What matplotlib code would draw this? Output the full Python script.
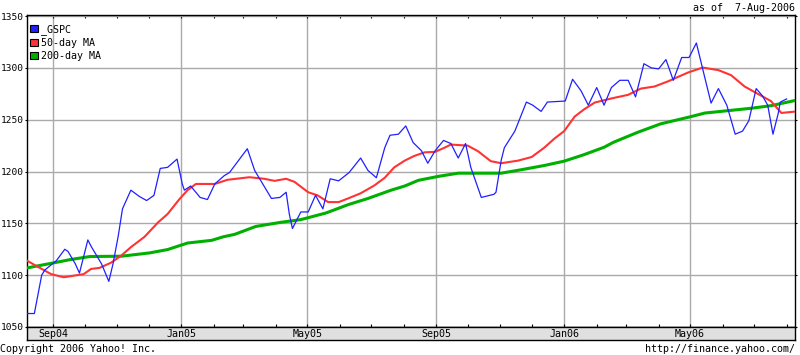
import pandas as pd
import matplotlib
matplotlib.use('Agg')
import matplotlib.pyplot as plt
import matplotlib.dates as mdates
from matplotlib.patches import Patch

plt.rcParams['font.family'] = ['DejaVu Sans Mono']
FS = 7.2

# S&P 500 (^GSPC) weekly closes
gspc_dates = [
    '2004-08-07', '2004-08-14', '2004-08-21', '2004-08-24', '2004-09-04', '2004-09-12',
    '2004-09-15', '2004-09-22', '2004-09-26', '2004-09-30', '2004-10-04', '2004-10-07',
    '2004-10-17', '2004-10-24', '2004-10-28', '2004-11-02', '2004-11-06', '2004-11-14',
    '2004-11-22', '2004-11-29', '2004-12-06', '2004-12-12', '2004-12-19', '2004-12-28',
    '2005-01-02', '2005-01-04', '2005-01-10', '2005-01-19', '2005-01-26', '2005-02-02',
    '2005-02-11', '2005-02-16', '2005-03-05', '2005-03-12', '2005-03-28', '2005-04-05',
    '2005-04-11', '2005-04-14', '2005-04-17', '2005-04-25', '2005-05-02', '2005-05-09',
    '2005-05-16', '2005-05-23', '2005-05-31', '2005-06-10', '2005-06-21', '2005-06-28',
    '2005-07-06', '2005-07-14', '2005-07-19', '2005-07-27', '2005-08-03', '2005-08-10',
    '2005-08-18', '2005-08-24', '2005-08-31', '2005-09-08', '2005-09-15', '2005-09-22',
    '2005-09-29', '2005-10-04', '2005-10-14', '2005-10-26', '2005-10-28', '2005-11-02',
    '2005-11-05', '2005-11-15', '2005-11-26', '2005-12-02', '2005-12-10', '2005-12-16',
    '2006-01-02', '2006-01-09', '2006-01-17', '2006-01-24', '2006-02-01', '2006-02-08',
    '2006-02-15', '2006-02-23', '2006-03-03', '2006-03-10', '2006-03-18', '2006-03-25',
    '2006-04-01', '2006-04-08', '2006-04-15', '2006-04-23', '2006-04-30', '2006-05-07',
    '2006-05-13', '2006-05-21', '2006-05-28', '2006-06-05', '2006-06-13', '2006-06-20',
    '2006-06-26', '2006-07-03', '2006-07-09', '2006-07-14', '2006-07-19', '2006-07-24',
    '2006-07-26', '2006-08-01',
]
gspc_values = [
    1063, 1063, 1100, 1105, 1114, 1125,
    1123, 1111, 1102, 1118, 1134, 1128,
    1111, 1094, 1111, 1138, 1164, 1182,
    1176, 1172, 1177, 1203, 1204, 1212,
    1188, 1182, 1186, 1175, 1173, 1188,
    1196, 1199, 1222, 1201, 1174, 1175,
    1180, 1159, 1145, 1161, 1161, 1177,
    1164, 1193, 1191, 1199, 1213, 1201,
    1194, 1223, 1235, 1236, 1244, 1228,
    1220, 1208, 1220, 1230, 1227, 1213,
    1227, 1204, 1175, 1178, 1180, 1211,
    1223, 1239, 1267, 1264, 1258, 1267,
    1268, 1289, 1278, 1264, 1281, 1264,
    1281, 1288, 1288, 1272, 1304, 1300,
    1299, 1308, 1288, 1310, 1310, 1324,
    1299, 1266, 1280, 1264, 1236, 1239,
    1249, 1280, 1273, 1264, 1236, 1256,
    1267, 1270,
]

# 50-day moving average
ma50_dates = [
    '2004-08-07', '2004-08-14', '2004-08-30', '2004-09-11', '2004-09-30', '2004-10-07',
    '2004-10-15', '2004-10-26', '2004-11-05', '2004-11-14', '2004-11-27', '2004-12-10',
    '2004-12-19', '2004-12-30', '2005-01-07', '2005-01-15', '2005-02-02', '2005-02-14',
    '2005-03-07', '2005-03-21', '2005-03-31', '2005-04-11', '2005-04-19', '2005-05-02',
    '2005-05-11', '2005-05-21', '2005-05-31', '2005-06-09', '2005-06-21', '2005-07-04',
    '2005-07-14', '2005-07-23', '2005-08-02', '2005-08-11', '2005-08-21', '2005-08-31',
    '2005-09-09', '2005-09-15', '2005-10-01', '2005-10-11', '2005-10-23', '2005-11-02',
    '2005-11-18', '2005-12-01', '2005-12-13', '2005-12-23', '2006-01-01', '2006-01-11',
    '2006-01-20', '2006-01-30', '2006-02-15', '2006-03-03', '2006-03-15', '2006-03-28',
    '2006-04-10', '2006-04-29', '2006-05-13', '2006-05-28', '2006-06-09', '2006-06-22',
    '2006-07-08', '2006-07-17', '2006-07-27', '2006-08-08',
]
ma50_values = [
    1114, 1110, 1101, 1098, 1101, 1106,
    1107, 1112, 1119, 1127, 1137, 1151,
    1159, 1173, 1182, 1188, 1188, 1192,
    1194.5, 1193, 1191, 1193, 1190, 1180,
    1177, 1170.5, 1170.5, 1174, 1179, 1186.5,
    1194, 1204, 1210.5, 1215, 1218.5, 1219,
    1223, 1226, 1225, 1219.5, 1210, 1208,
    1210.5, 1214, 1223, 1232, 1239, 1253,
    1260, 1266.5, 1270.5, 1274, 1280, 1282,
    1287, 1295.5, 1300.3, 1297.8, 1293, 1282,
    1273, 1268, 1256.5, 1257.7,
]

# 200-day moving average
ma200_dates = [
    '2004-08-07', '2004-09-02', '2004-09-17', '2004-10-06', '2004-11-05', '2004-12-02',
    '2004-12-19', '2005-01-07', '2005-01-30', '2005-02-10', '2005-02-21', '2005-03-13',
    '2005-04-06', '2005-04-25', '2005-05-19', '2005-06-09', '2005-06-28', '2005-07-20',
    '2005-08-02', '2005-08-15', '2005-09-03', '2005-09-22', '2005-11-02', '2005-11-21',
    '2005-12-13', '2006-01-01', '2006-01-20', '2006-02-08', '2006-02-17', '2006-03-12',
    '2006-04-03', '2006-05-02', '2006-05-15', '2006-06-06', '2006-06-28', '2006-07-17',
    '2006-08-08',
]
ma200_values = [
    1107, 1112, 1115, 1118, 1118.3, 1121.5,
    1124.7, 1131, 1133.6, 1137, 1139.4, 1147,
    1151, 1153.6, 1160, 1168, 1174, 1182,
    1186, 1191.5, 1195.3, 1198.4, 1198.4, 1201.7,
    1205.8, 1210, 1216.3, 1223.4, 1228.2, 1237.8,
    1246, 1253, 1256.4, 1258.7, 1261, 1263.5,
    1268.3,
]

major_ticks = ['2004-09-01', '2005-01-01', '2005-05-01', '2005-09-01', '2006-01-01', '2006-05-01']
major_labels = ['Sep04', 'Jan05', 'May05', 'Sep05', 'Jan06', 'May06']
y_ticks = [1050, 1100, 1150, 1200, 1250, 1300, 1350]
x_range = ['2004-08-07', '2006-08-09']

C_BLUE = '#2020ff'
C_RED = '#ff3333'
C_GREEN = '#00b000'
C_GRID = '#aaaaaa'

W, H = 800, 355
fig = plt.figure(figsize=(W / 100, H / 100), dpi=100)
ax = fig.add_axes([27 / W, 1 - 327 / H, 768 / W, 312 / H])

xlim = pd.to_datetime(x_range)

# grid first, lines on top
ax.set_axisbelow(True)
ax.grid(True, which='major', color=C_GRID, linewidth=1.0)

ax.plot(pd.to_datetime(ma200_dates), ma200_values, color=C_GREEN, linewidth=2.2, zorder=3)
ax.plot(pd.to_datetime(ma50_dates), ma50_values, color=C_RED, linewidth=1.5, zorder=4)
ax.plot(pd.to_datetime(gspc_dates), gspc_values, color=C_BLUE, linewidth=0.9, zorder=5)

ax.set_xlim(xlim)
ax.set_ylim(1050, 1351)
ax.set_xticks(pd.to_datetime(major_ticks))
ax.xaxis.set_minor_locator(mdates.MonthLocator())
ax.tick_params(axis='x', which='both', direction='in', top=True, bottom=True,
               length=2.5, width=0.8, labelbottom=False)
ax.set_yticks(y_ticks)
ax.tick_params(axis='y', direction='out', left=True, right=True, length=1.5,
               width=0.8, pad=1, labelsize=6.8)
for s in ax.spines.values():
    s.set_color('black')
    s.set_linewidth(1.0)

# legend: small squares
handles = [Patch(facecolor=c, edgecolor='black', linewidth=0.8)
           for c in (C_BLUE, C_RED, C_GREEN)]
ax.legend(handles, ['_GSPC', '50-day MA', '200-day MA'], loc='upper left',
          bbox_to_anchor=(-0.002, 1 - 4 / 312), frameon=False, fontsize=FS,
          handlelength=0.75, handleheight=0.75, handletextpad=0.3,
          labelspacing=0.3, borderaxespad=0.3, borderpad=0.2)

# gray date band under the plot
bx = fig.add_axes([27 / W, 1 - 340 / H, 768 / W, 13 / H], facecolor='#e0e0e0')
bx.set_xlim(xlim)
bx.set_ylim(0, 1)
bx.set_xticks([])
bx.set_yticks([])
for s in bx.spines.values():
    s.set_color('black')
    s.set_linewidth(1.0)
for d, lab in zip(pd.to_datetime(major_ticks), major_labels):
    bx.text(d, 0.45, lab, ha='center', va='center', fontsize=FS)

fig.text(795 / W, 1 - 8 / H, 'as of  7-Aug-2006', ha='right', va='center', fontsize=FS)
fig.text(0.0, 1 - 349 / H, 'Copyright 2006 Yahoo! Inc.', ha='left', va='center', fontsize=FS)
fig.text(795 / W, 1 - 349 / H, 'http://finance.yahoo.com/', ha='right', va='center', fontsize=FS)

fig.savefig('out.png', dpi=100)
